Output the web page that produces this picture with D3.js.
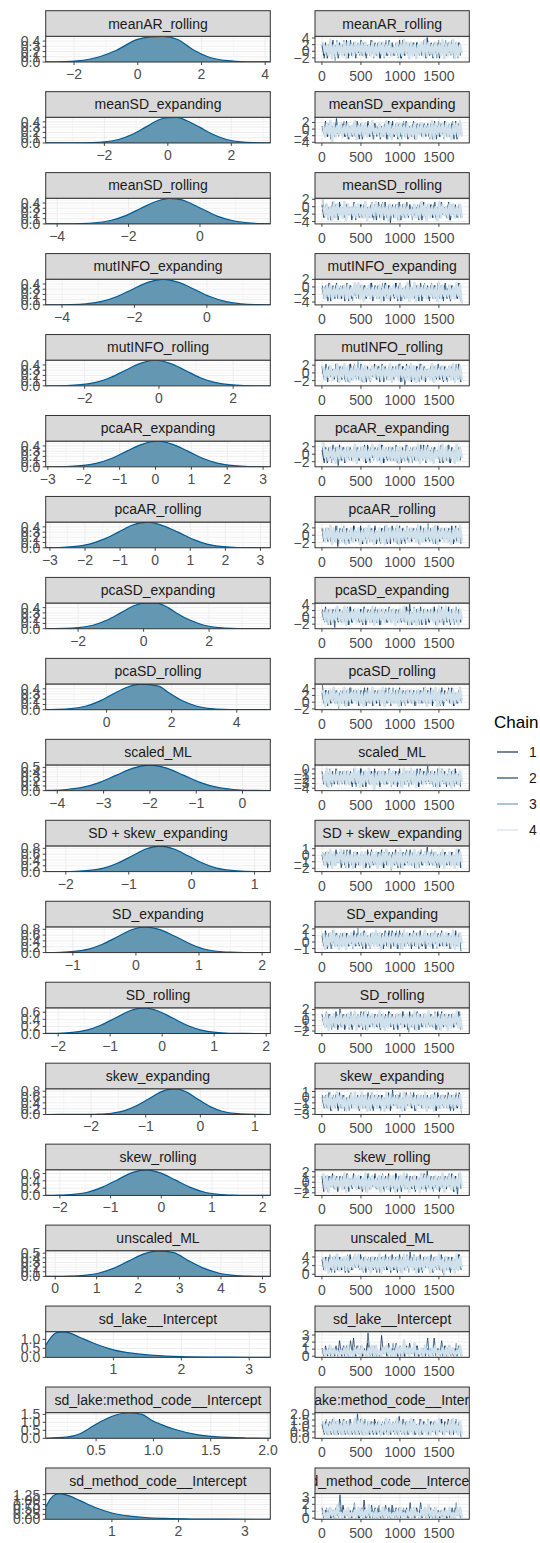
<!DOCTYPE html>
<html><head><meta charset="utf-8">
<script src="https://cdn.jsdelivr.net/npm/d3@7"></script>
<style>
body{margin:0;background:#fff}
svg{display:block}
text{font-family:"Liberation Sans",Arial,Helvetica,sans-serif}
</style>
</head><body>
<svg id="chart" width="540" height="1543"></svg>
<script>
// ---------------- data ----------------
const params = ["meanAR_rolling","meanSD_expanding","meanSD_rolling","mutINFO_expanding","mutINFO_rolling",
  "pcaAR_expanding","pcaAR_rolling","pcaSD_expanding","pcaSD_rolling","scaled_ML","SD + skew_expanding",
  "SD_expanding","SD_rolling","skew_expanding","skew_rolling","unscaled_ML","sd_lake__Intercept",
  "sd_lake:method_code__Intercept","sd_method_code__Intercept"];

// range (min, max) of the posterior draws of each parameter
const ranges = [[-2.89,4.16],[-3.85,3.23],[-4.32,1.97],[-4.45,1.75],[-3.05,3.0],[-3.06,3.2],[-3.12,3.28],
  [-2.99,3.87],[-1.87,5.03],[-4.25,0.6],[-2.32,1.25],[-1.43,2.13],[-2.24,2.08],[-2.83,1.28],[-2.28,2.15],
  [-0.23,5.19],[0.003,3.31],[0.06,2.02],[0.005,3.38]];

// density curves: [x, density]
const densPoints = [
 [[-2.89,0.001],[-2.3,0.006],[-1.9,0.02],[-1.2,0.10],[-0.65,0.23],[-0.03,0.43],[0.4,0.48],[0.8,0.49],[1.25,0.43],[1.75,0.23],[2.2,0.10],[2.8,0.025],[3.4,0.005],[4.16,0.0005]],
 [[-3.85,0],[-2.83,0.001],[-2.4,0.005],[-1.98,0.022],[-1.55,0.066],[-1.13,0.16],[-0.7,0.3],[-0.28,0.44],[0.0,0.48],[0.3,0.485],[0.6,0.42],[1.0,0.3],[1.43,0.16],[1.85,0.066],[2.28,0.022],[2.7,0.005],[3.23,0.0005]],
 [[-4.32,0],[-3.78,0.001],[-3.35,0.005],[-2.93,0.022],[-2.5,0.066],[-2.08,0.16],[-1.65,0.3],[-1.23,0.43],[-0.85,0.49],[-0.5,0.46],[-0.38,0.43],[0.05,0.29],[0.48,0.15],[0.9,0.066],[1.33,0.022],[1.75,0.005],[1.97,0.001]],
 [[-4.45,0],[-4.18,0.001],[-3.75,0.005],[-3.33,0.022],[-2.9,0.066],[-2.48,0.16],[-2.05,0.3],[-1.63,0.43],[-1.2,0.49],[-0.78,0.43],[-0.35,0.3],[0.08,0.16],[0.5,0.066],[0.93,0.022],[1.35,0.005],[1.75,0.001]],
 [[-3.05,0],[-2.9,0.001],[-2.5,0.005],[-2.1,0.022],[-1.7,0.066],[-1.3,0.16],[-0.9,0.3],[-0.5,0.43],[-0.1,0.49],[0.3,0.43],[0.7,0.3],[1.1,0.16],[1.5,0.066],[1.9,0.022],[2.3,0.005],[2.7,0.001],[3.0,0]],
 [[-3.06,0],[-2.93,0.001],[-2.5,0.005],[-2.08,0.022],[-1.65,0.066],[-1.23,0.16],[-0.8,0.3],[-0.38,0.43],[0.05,0.49],[0.48,0.43],[0.9,0.3],[1.33,0.16],[1.75,0.066],[2.18,0.022],[2.6,0.005],[3.03,0.001],[3.2,0]],
 [[-3.12,0.001],[-2.75,0.005],[-2.33,0.022],[-1.9,0.066],[-1.48,0.16],[-1.05,0.3],[-0.63,0.44],[-0.2,0.49],[0.23,0.42],[0.65,0.3],[1.08,0.16],[1.5,0.066],[1.93,0.022],[2.35,0.005],[2.78,0.001],[3.28,0]],
 [[-2.99,0],[-2.83,0.001],[-2.4,0.005],[-1.98,0.022],[-1.55,0.066],[-1.13,0.16],[-0.7,0.3],[-0.28,0.44],[0.0,0.485],[0.4,0.485],[0.75,0.4],[1.0,0.3],[1.43,0.16],[1.85,0.066],[2.28,0.022],[2.7,0.005],[3.13,0.001],[3.87,0]],
 [[-1.87,0.001],[-1.5,0.005],[-1.08,0.022],[-0.65,0.066],[-0.23,0.16],[0.2,0.3],[0.63,0.43],[1.05,0.49],[1.6,0.45],[1.9,0.33],[2.33,0.17],[2.75,0.07],[3.18,0.022],[3.6,0.005],[4.03,0.001],[5.03,0]],
 [[-4.25,0.003],[-4.16,0.006],[-3.8,0.024],[-3.44,0.074],[-3.08,0.179],[-2.72,0.334],[-2.36,0.485],[-2.0,0.55],[-1.64,0.485],[-1.28,0.334],[-0.92,0.179],[-0.56,0.074],[-0.2,0.024],[0.16,0.006],[0.6,0.001]],
 [[-2.32,0],[-2.08,0.002],[-1.85,0.01],[-1.63,0.039],[-1.4,0.119],[-1.18,0.286],[-0.95,0.534],[-0.73,0.776],[-0.5,0.88],[-0.28,0.776],[-0.05,0.534],[0.18,0.286],[0.4,0.119],[0.63,0.039],[0.85,0.01],[1.08,0.002],[1.25,0]],
 [[-1.43,0.002],[-1.2,0.01],[-0.98,0.039],[-0.75,0.119],[-0.53,0.286],[-0.3,0.534],[-0.08,0.776],[0.15,0.88],[0.38,0.79],[0.6,0.58],[0.83,0.33],[1.05,0.14],[1.28,0.045],[1.5,0.012],[1.73,0.002],[2.13,0]],
 [[-2.24,0.002],[-2.0,0.008],[-1.73,0.032],[-1.45,0.097],[-1.18,0.234],[-0.9,0.437],[-0.63,0.635],[-0.35,0.72],[-0.08,0.635],[0.2,0.437],[0.48,0.234],[0.75,0.097],[1.03,0.032],[1.3,0.008],[1.58,0.0014],[2.08,0]],
 [[-2.83,0],[-2.3,0.001],[-2.08,0.003],[-1.85,0.012],[-1.63,0.042],[-1.4,0.125],[-1.18,0.29],[-0.95,0.53],[-0.73,0.77],[-0.48,0.88],[-0.28,0.8],[-0.05,0.534],[0.18,0.27],[0.4,0.11],[0.63,0.035],[0.85,0.009],[1.08,0.002],[1.28,0]],
 [[-2.28,0.0015],[-2.01,0.0077],[-1.73,0.031],[-1.44,0.095],[-1.16,0.228],[-0.87,0.425],[-0.59,0.617],[-0.3,0.7],[-0.02,0.617],[0.27,0.425],[0.56,0.228],[0.84,0.095],[1.13,0.031],[1.41,0.0077],[1.7,0.0014],[2.15,0]],
 [[-0.23,0.0005],[-0.02,0.001],[0.34,0.006],[0.7,0.024],[1.06,0.074],[1.42,0.179],[1.78,0.334],[2.14,0.485],[2.5,0.55],[2.86,0.51],[3.22,0.334],[3.58,0.179],[3.94,0.074],[4.3,0.024],[4.66,0.006],[5.02,0.001],[5.19,0]],
 [[0.003,0.68],[0.08,1.1],[0.15,1.35],[0.25,1.42],[0.35,1.36],[0.5,1.12],[0.7,0.8],[1.0,0.42],[1.3,0.22],[1.6,0.11],[2.0,0.04],[2.5,0.012],[3.0,0.003],[3.31,0]],
 [[0.06,0.005],[0.24,0.07],[0.36,0.29],[0.44,0.62],[0.53,1.0],[0.64,1.38],[0.79,1.6],[0.9,1.5],[0.98,1.15],[1.07,0.86],[1.19,0.55],[1.39,0.22],[1.56,0.09],[1.81,0.02],[2.02,0.004]],
 [[0.005,0.62],[0.08,1.05],[0.15,1.26],[0.22,1.3],[0.35,1.2],[0.52,0.95],[0.75,0.6],[1.0,0.32],[1.25,0.17],[1.5,0.09],[1.8,0.045],[2.2,0.015],[2.7,0.004],[3.38,0]]
];

const densXTickLabels = [["−2","0","2","4"],["−2","0","2"],["−4","−2","0"],["−4","−2","0"],["−2","0","2"],
  ["−3","−2","−1","0","1","2","3"],["−3","−2","−1","0","1","2","3"],["−2","0","2"],["0","2","4"],
  ["−4","−3","−2","−1","0"],["−2","−1","0","1"],["−1","0","1","2"],["−2","−1","0","1","2"],["−2","−1","0","1"],
  ["−2","−1","0","1","2"],["0","1","2","3","4","5"],["1","2","3"],["0.5","1.0","1.5","2.0"],["1","2","3"]];
const yT04 = ["0.0","0.1","0.2","0.3","0.4"];
const densYTickLabels = [yT04,yT04,yT04,yT04,yT04,yT04,yT04,yT04,yT04,
  ["0.0","0.1","0.2","0.3","0.4","0.5"],["0.0","0.2","0.4","0.6","0.8"],["0.0","0.2","0.4","0.6","0.8"],
  ["0.0","0.2","0.4","0.6"],["0.0","0.2","0.4","0.6","0.8"],["0.0","0.2","0.4","0.6"],
  ["0.0","0.1","0.2","0.3","0.4","0.5"],["0.0","0.5","1.0"],["0.0","0.5","1.0","1.5"],
  ["0.00","0.25","0.50","0.75","1.00","1.25"]];
const traceYTickLabels = [["−2","0","2","4"],["−4","−2","0","2"],["−4","−2","0","2"],["−4","−2","0","2"],
  ["−2","0","2"],["−2","0","2"],["−2","0","2"],["−2","0","2","4"],["−2","0","2","4"],
  ["−4","−3","−2","−1","0"],["−2","−1","0","1"],["−1","0","1","2"],["−2","−1","0","1","2"],
  ["−3","−2","−1","0","1"],["−2","−1","0","1","2"],["0","2","4"],["0","1","2","3"],
  ["0.0","0.5","1.0","1.5","2.0"],["0","1","2","3"]];
const traceXTickLabels = ["0","500","1000","1500"];
const nIter = 1800;
const chainNames = ["1","2","3","4"];
const chainColors = ["#011f4b","#03396c","#6497b1","#d1e1ec"];

// trace draws, thinned: each digit is a level between the parameter's min (0) and max (9)
const traceDigits = [
 ["6271637263 7362816273 6372726383 6271736273 7263618273 6372736272 9362736173 6273726372",
  "7162738261 5372628371 6382716273 7261637282 6372816372 7362736281 8271637263 6273817263",
  "7363627082 6281736372 7263726381 6372618273 6271637263 6372726383 7263618273 8362736173",
  "7362816273 6271736273 6372736272 6273726372 5372628371 7261637282 7362736281 6273817263"],
 ["6382716273 6372816372 8271637263 7363627182 7263726381 6271637263 6271736273 8362736173",
  "6372726393 6372736272 7162738261 7261637282 8271637263 6281736372 7362816273 7263618273",
  "6273726372 6382716273 7362736281 7363627182 6372618273 6271736273 7162738261 6372816372",
  "6273807263 7263726381 6372726383 5372628371 6372736272 6271637263 6281736372 7261637282"],
 ["7263618273 8362736173 6372736272 7162738260 6273817263 7363627182 6372726383 6271637263",
  "5372628371 7362736281 6273726372 6382716273 7261637282 6372618273 7362816273 6281736372",
  "9271637263 6271736273 7263726381 6372816372 6372726383 7162738261 6273817263 6372736272",
  "6372618273 6281736372 7362816273 8362736173 6271637263 5372628371 7263618273 6273726372"],
 ["6372816372 6271637263 7263726381 5372628371 6382716273 9362736173 6273726372 7362736281",
  "7261637282 6273817263 6372726383 7263618273 6281736372 6372618273 7162738261 8271637263",
  "6271736273 7363627182 6372736272 7362816273 6372816372 7261637282 6382716273 7263726381",
  "6273726372 6372726383 8271637263 6271637263 7362736281 6281736372 6372618273 5372628370"],
 ["7362736281 6372618273 6271637263 8271637263 6273817263 7162738261 6372736272 7263726381",
  "6281736372 7263618273 6382716273 6372816372 7363627082 6271736273 5372628371 6273726372",
  "6372726383 7261637282 9362736173 6273726372 7362816273 6372618273 6271637263 7162738261",
  "7263726381 6382716273 6271736273 7362736281 6372736272 8271637263 6281736372 6372816372"],
 ["6271736273 8271637263 7263618273 6372816372 7261637282 6372726383 7362736281 6281736372",
  "7162738260 6372736272 6273817263 7362816273 6382716273 5372628371 8362736173 6271637263",
  "6372618273 6273726372 7363627182 6271637263 7263726381 7162738261 6372736272 6382716273",
  "9362736173 7362736281 6372726383 6281736372 6271736273 6372816372 7261637282 7263618273"],
 ["7263726380 6372726383 6281736372 7162738261 8271637263 6273726372 6372618273 7362816273",
  "6372736272 7261637282 6271637263 8362736173 6372816372 7263618273 6273817263 5372628371",
  "7362736281 6382716273 7263618273 6271736273 7363627182 6372736272 9271637263 6372726383",
  "6273817263 6271637263 7162738261 6372618273 6281736372 7362816273 6372816372 7261637282"],
 ["6382716273 7263618273 6372816372 6271736273 7362736281 9362736173 6273817263 6372736272",
  "7363627082 6372618273 6271637263 7261637282 6372726383 7162738261 7263726381 6281736372",
  "6271637263 7362816273 6273726372 8271637263 6372736272 6382716273 5372628371 7263618273",
  "6372726383 6281736372 7362736281 6273726372 7162738261 6271736273 6372618273 8362736173"],
 ["6273726372 6372618273 7162738261 6271637263 6372736272 7261637282 6281736372 7362816273",
  "9271637263 6271736273 6372816372 7263726381 6273817263 6372726383 7362736281 6382716273",
  "5372628370 7263618273 6273726372 6372618273 8362736173 6271637263 7363627182 6372736272",
  "7162738261 6281736372 7261637282 6372816372 6271736273 7263726381 6273817263 6372726383"],
 ["7261637282 6372736272 6382716273 8271637263 6271736273 7263618273 6372618273 7162738261",
  "6273726372 7363627182 6281736372 6372726383 7362816273 6273817263 9362736173 6271637263",
  "6372816372 7263726381 6271637263 7362736281 5372628371 6372736272 7261637282 6382716273",
  "6281736372 6372726383 7162738260 6273726372 7263618273 8271637263 6372618273 6271736273"],
 ["6372726383 7162738261 7263618273 6273817263 6382716273 6271637263 9362736173 7362736281",
  "6271736273 6372816372 7363627182 6372618273 7261637282 8271637263 6273726372 7263726381",
  "7362816273 6281736372 6372736272 5372628370 6271637263 7263618273 6382716273 6372726383",
  "6273817263 8362736173 6271736273 7162738261 6372816372 6281736372 7362736281 6372618273"],
 ["6281736372 6273726372 7362816273 6372618273 8271637263 7162738261 6372736272 6271637263",
  "7263618273 6372726383 6271736273 7362736281 6273817263 6382716273 7261637282 5372628370",
  "6372618273 7363627182 9362736173 6273726372 6281736372 7263726381 6372816372 6271736273",
  "7162738261 6271637263 6372736272 8271637263 7263618273 6372726383 6273726372 7362816273"],
 ["7362736281 6271736273 6273817263 6372726383 7162738261 8271637263 6372618273 7263726381",
  "6372736272 9362736173 6281736372 7261637282 6271637263 6372816372 7363627182 6273726372",
  "6382716273 6372618273 7263618273 6271736273 5372628370 7362816273 6273817263 6372726383",
  "6271637263 7263726381 6372816372 6382716273 6273726372 6281736372 8362736173 7162738261"],
 ["6372816372 8271637263 6273726372 7362736281 6372726383 6271736273 7263618273 6382716273",
  "7263726381 6271637263 7162738261 6372736272 9362736173 6281736372 6273817263 7261637282",
  "6273817263 6372618273 7363627182 6271637263 7362816273 8271637263 6372736272 5372628370",
  "6372726383 7261637282 6282716273 7263618273 6372618273 7362736281 6271736273 6273726372"],
 ["7162738261 6372726383 6271637263 7263726381 6281736372 6372736272 9362736173 6273817263",
  "6271736273 7362816273 6372618273 8271637263 6382716273 7261637282 6273726372 7363627082",
  "6372736272 6273726372 7263618273 6372816372 7362736281 5372628371 6271637263 6382716273",
  "8271637263 6281736372 7362816273 6271736273 7162738261 6372618273 7263726381 6372726383"],
 ["6273726372 7263618273 6382716273 6271736273 8271637263 6372618273 7362736281 6372726383",
  "7363627182 6271637263 6372736272 7162738261 6273817263 9362736173 6281736372 7261637282",
  "6372816372 7362816273 6271637263 6273726372 7263726381 6382716273 5372628370 6372736272",
  "7261637282 6372726383 8362736173 6281736372 6372618273 6271736273 7162738261 7263618273"],
 ["3041302140 6130402170 4130315120 3020813051 2140302031 5130402130 3021703120 4031203041",
  "3120413021 2041306130 3140209140 4020314130 3150213041 2130402031 7031302160 3041203140",
  "2031402130 3041302140 4031203041 3120413021 5130402130 2140302031 3020413051 4130315120",
  "3021403120 2130402031 3041203140 4020314130 2041306130 3150213041 2031402130 3041302140"],
 ["5261527162 7152617251 5271625162 7162516251 5261825161 6251527162 5162615271 6271516252",
  "6152617251 5271625162 9162516251 6251527162 5261527162 6271516252 5162615271 5261725160",
  "5271625162 6271516252 5261725161 5162615271 6152617251 5261527162 7162516251 6251527162",
  "6251527162 5162615271 6271516252 5261527162 5271625162 7162516251 6152617251 5261725161"],
 ["4031203041 3150213041 2031702130 3041302140 5130402130 3120413021 2140302031 4020314130",
  "2130402031 9041302140 3020413051 4130315120 3140203140 6041306130 3021403120 2031402130",
  "3041203140 4031302160 2140302031 3150213041 4020314130 3041302140 3120413021 2041306130",
  "3020413051 2031402130 4130315120 3021403120 2130402031 3041203140 5130402130 3140203140"]
];

// ---------------- layout ----------------
const TOP0 = 10.7, PITCH = 80.96, STRIP_H = 25.6, PANEL_H = 25.7;
const DL = 45.7, DR = 270.3, TL = 315, TR = 469.3;
const AXIS_FS = 14, STRIP_FS = 14;
const num = s => +s.replace("\u2212", "-");

const svg = d3.select("#chart");
const defs = svg.append("defs");
let clipId = 0;

function minors(vals, dom) {
  const out = [];
  if (vals.length < 2) return out;
  const step = vals[1] - vals[0];
  const lo = Math.min(dom[0], dom[1]), hi = Math.max(dom[0], dom[1]);
  for (let v = vals[0] - step / 2 - step * 10; v <= hi + 1e-9; v += step) {
    if (v >= lo - 1e-9) out.push(v);
  }
  return out;
}

function panel(x0, x1, sTop, pTop, pBot, xs, ys, xLabs, yLabs, title, xLabY, content) {
  const g = svg.append("g");
  g.append("rect").attr("x", x0).attr("y", pTop).attr("width", x1 - x0).attr("height", pBot - pTop).attr("fill", "#fff");
  const xv = xLabs.map(num), yv = yLabs.map(num);
  const grid = g.append("g").attr("stroke", "#ebebeb").attr("fill", "none");
  minors(xv, xs.domain()).forEach(v => grid.append("line").attr("x1", xs(v)).attr("x2", xs(v)).attr("y1", pTop).attr("y2", pBot).attr("stroke-width", 0.45));
  minors(yv, ys.domain()).forEach(v => grid.append("line").attr("y1", ys(v)).attr("y2", ys(v)).attr("x1", x0).attr("x2", x1).attr("stroke-width", 0.45));
  xv.forEach(v => grid.append("line").attr("x1", xs(v)).attr("x2", xs(v)).attr("y1", pTop).attr("y2", pBot).attr("stroke-width", 0.9));
  yv.forEach(v => grid.append("line").attr("y1", ys(v)).attr("y2", ys(v)).attr("x1", x0).attr("x2", x1).attr("stroke-width", 0.9));

  const id = "clip" + (clipId++);
  defs.append("clipPath").attr("id", id).append("rect").attr("x", x0).attr("y", pTop).attr("width", x1 - x0).attr("height", pBot - pTop);
  const cg = g.append("g").attr("clip-path", `url(#${id})`);
  content(cg);

  g.append("rect").attr("x", x0).attr("y", pTop).attr("width", x1 - x0).attr("height", pBot - pTop)
    .attr("fill", "none").attr("stroke", "#333333").attr("stroke-width", 1);

  // strip
  const sid = "clip" + (clipId++);
  defs.append("clipPath").attr("id", sid).append("rect").attr("x", x0).attr("y", sTop).attr("width", x1 - x0).attr("height", pTop - sTop);
  g.append("rect").attr("x", x0).attr("y", sTop).attr("width", x1 - x0).attr("height", pTop - sTop)
    .attr("fill", "#d9d9d9").attr("stroke", "#333333").attr("stroke-width", 1);
  g.append("text").attr("clip-path", `url(#${sid})`).attr("x", (x0 + x1) / 2).attr("y", (sTop + pTop) / 2)
    .attr("text-anchor", "middle").attr("dominant-baseline", "central")
    .attr("font-size", STRIP_FS).attr("fill", "#1a1a1a").text(title);

  // axes
  const ax = g.append("g");
  xv.forEach((v, i) => {
    ax.append("line").attr("x1", xs(v)).attr("x2", xs(v)).attr("y1", pBot).attr("y2", pBot + 3).attr("stroke", "#333333").attr("stroke-width", 0.9);
    ax.append("text").attr("x", xs(v)).attr("y", pBot + xLabY).attr("text-anchor", "middle")
      .attr("font-size", AXIS_FS).attr("fill", "#4d4d4d").text(xLabs[i]);
  });
  yv.forEach((v, i) => {
    ax.append("line").attr("x1", x0 - 3).attr("x2", x0).attr("y1", ys(v)).attr("y2", ys(v)).attr("stroke", "#333333").attr("stroke-width", 0.9);
    ax.append("text").attr("x", x0 - 5.5).attr("y", ys(v)).attr("text-anchor", "end").attr("dominant-baseline", "central")
      .attr("font-size", AXIS_FS).attr("fill", "#4d4d4d").text(yLabs[i]);
  });
}

params.forEach((name, r) => {
  const sTop = TOP0 + r * PITCH, pTop = sTop + STRIP_H, pBot = pTop + PANEL_H;
  const [lo, hi] = ranges[r];

  // ---- density ----
  const pts = densPoints[r];
  const yMax = d3.max(pts, d => d[1]) * 1.005;
  const xs = d3.scaleLinear().domain([lo, hi]).range([DL, DR]);
  const ys = d3.scaleLinear().domain([0, yMax]).range([pBot, pTop]);
  panel(DL, DR, sTop, pTop, pBot, xs, ys, densXTickLabels[r], densYTickLabels[r], name, 17, cg => {
    const area = d3.area().curve(d3.curveMonotoneX).x(d => xs(d[0])).y0(ys(0)).y1(d => ys(d[1]));
    const line = d3.line().curve(d3.curveMonotoneX).x(d => xs(d[0])).y(d => ys(d[1]));
    cg.append("path").datum(pts).attr("d", area).attr("fill", "#6497b1");
    cg.append("path").datum(pts).attr("d", line).attr("fill", "none").attr("stroke", "#005b96").attr("stroke-width", 1.2);
  });

  // ---- trace ----
  const pad = 0.05 * (hi - lo);
  const tx = d3.scaleLinear().domain([1 - 0.05 * (nIter - 1), nIter + 0.05 * (nIter - 1)]).range([TL, TR]);
  const ty = d3.scaleLinear().domain([lo - pad, hi + pad]).range([pBot, pTop]);
  panel(TL, TR, sTop, pTop, pBot, tx, ty, traceXTickLabels, traceYTickLabels[r], name, 19, cg => {
    traceDigits[r].forEach((str, c) => {
      const ds = str.replace(/ /g, "").split("").map(Number);
      const n = ds.length;
      const stepIt = (nIter - 1) / n;
      const vals = ds.map((d, i) => ({ it: 1 + (i + c * 0.25) * stepIt, v: lo + d / 9 * (hi - lo) }));
      const line = d3.line().x(d => tx(d.it)).y(d => ty(d.v));
      cg.append("path").datum(vals).attr("d", line).attr("fill", "none")
        .attr("stroke", chainColors[c]).attr("stroke-width", c === 3 ? 2.5 : 0.7)
        .attr("stroke-linejoin", "round");
    });
  });
});

// ---------------- legend ----------------
const lg = svg.append("g");
lg.append("text").attr("x", 494).attr("y", 722).attr("dominant-baseline", "central")
  .attr("font-size", 17).attr("fill", "#000").text("Chain");
chainNames.forEach((c, i) => {
  const y = 752 + i * 26;
  lg.append("line").attr("x1", 497).attr("x2", 518).attr("y1", y).attr("y2", y)
    .attr("stroke", chainColors[i]).attr("stroke-width", 1.1);
  lg.append("text").attr("x", 529).attr("y", y).attr("dominant-baseline", "central")
    .attr("font-size", 14).attr("fill", "#1a1a1a").text(c);
});
</script>
</body></html>
